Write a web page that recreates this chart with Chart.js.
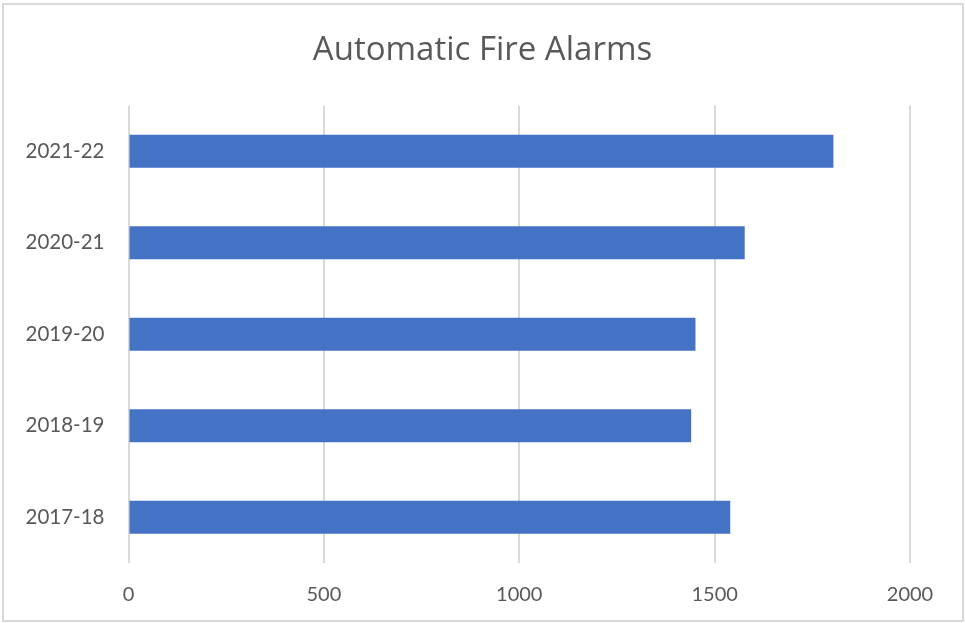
<!DOCTYPE html>
<html>
<head>
<meta charset="utf-8">
<script src="https://cdn.jsdelivr.net/npm/chart.js@4"></script>
<style>
  html, body { margin: 0; padding: 0; background: #fff; }
  #wrap { width: 965px; height: 623px; position: relative; }
</style>
</head>
<body>
<div id="wrap"><canvas id="fireChart" width="965" height="623"></canvas></div>
<script>
// --- DATA ---
const years = ['2017-18', '2018-19', '2019-20', '2020-21', '2021-22'];
const alarms = [1540, 1440, 1451, 1577, 1804];
const xTicks = [0, 500, 1000, 1500, 2000];

const GREY = '#595959';
const FONT = 'Lato, "Open Sans", sans-serif';

// outer frame like the office chart area
const framePlugin = {
    id: 'frame',
    beforeDraw(chart) {
        const c = chart.ctx;
        c.save();
        c.fillStyle = '#fff';
        c.fillRect(0, 0, chart.width, chart.height);
        c.strokeStyle = '#d9d9d9';
        c.lineWidth = 2;
        c.strokeRect(3, 4, chart.width - 5, chart.height - 6);
        c.restore();
    }
};

new Chart(document.getElementById('fireChart').getContext('2d'), {
    type: 'bar',
    data: {
        labels: years,
        datasets: [{
            data: alarms,
            backgroundColor: '#4472C4',
            borderWidth: 0,
            barPercentage: 0.36,
            categoryPercentage: 1
        }]
    },
    options: {
        indexAxis: 'y',
        responsive: false,
        animation: false,
        layout: { padding: 0 },
        plugins: {
            legend: { display: false },
            tooltip: { enabled: false },
            title: {
                display: true,
                text: 'Automatic Fire Alarms',
                color: GREY,
                font: { family: '"Open Sans", sans-serif', size: 33, weight: 'normal' },
                padding: { top: 31, bottom: 35 }
            }
        },
        scales: {
            x: {
                min: 0, max: 2000,
                afterBuildTicks: s => { s.ticks = xTicks.map(v => ({ value: v })); },
                afterFit: s => { s.height = 60; },
                grid: { color: '#d9d9d9', lineWidth: 2, drawTicks: false },
                border: { display: false },
                ticks: { color: GREY, font: { family: FONT, size: 20 }, padding: 20, callback: v => String(v) }
            },
            y: {
                reverse: true,
                afterFit: s => { s.width = 128.5; },
                grid: { display: false },
                border: { display: false },
                ticks: { color: GREY, font: { family: FONT, size: 20.5 }, padding: 16 }
            },
            // empty strip on the right so the title stays centred on the page
            yRight: {
                type: 'category',
                labels: years,
                position: 'right',
                afterFit: s => { s.width = 55; },
                grid: { display: false },
                border: { display: false },
                ticks: { display: false }
            }
        }
    },
    plugins: [framePlugin]
});
</script>
</body>
</html>
